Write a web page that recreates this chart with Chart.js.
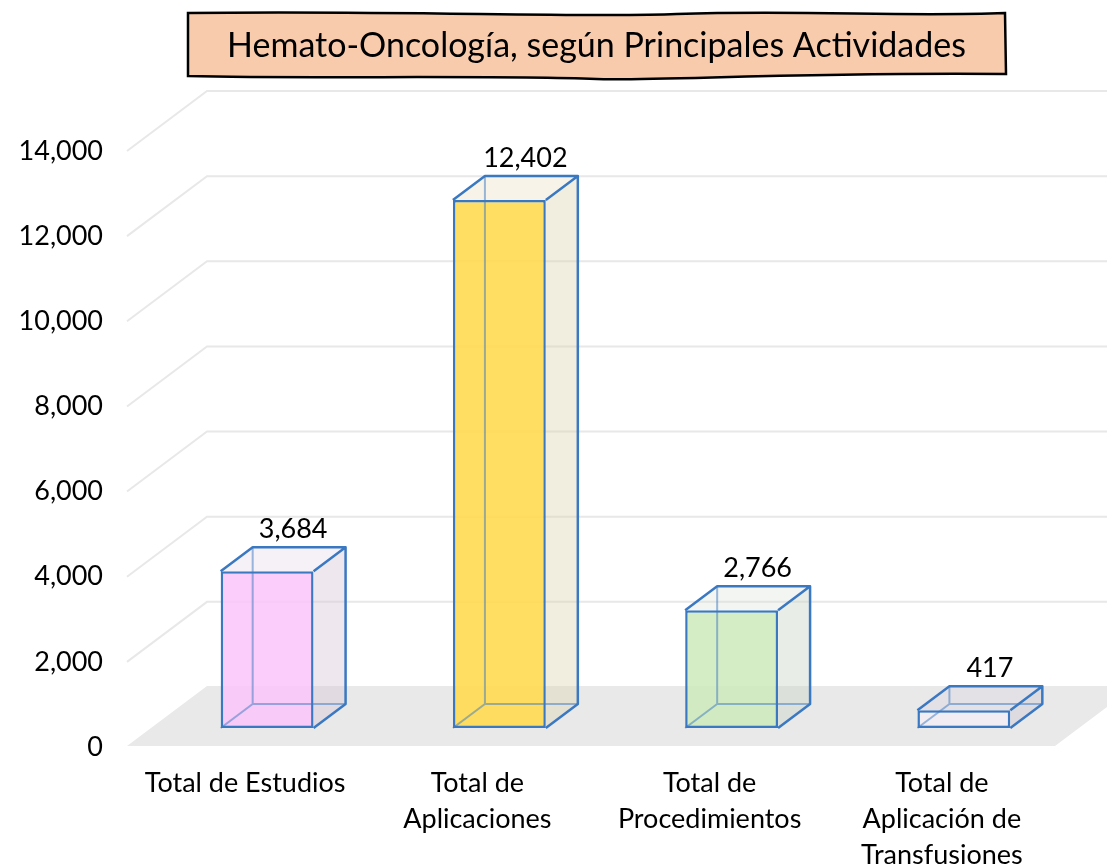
<!DOCTYPE html>
<html>
<head>
<meta charset="utf-8">
<script src="https://cdn.jsdelivr.net/npm/chart.js@4.4.0/dist/chart.umd.min.js"></script>
<style>
  body { margin: 0; background: #fff; }
</style>
</head>
<body>
<canvas id="grafico" width="1107" height="866"></canvas>
<script>
// Datos del gráfico
const titulo = "Hemato-Oncología, según Principales Actividades";
const categorias = [
    "Total de Estudios",
    ["Total de", "Aplicaciones"],
    ["Total de", "Procedimientos"],
    ["Total de", "Aplicación de", "Transfusiones"]
];
const valores = [3684, 12402, 2766, 417];
const ticksY = [0, 2000, 4000, 6000, 8000, 10000, 12000, 14000];

// Colores de cada barra (frente, lado, tapa)
const coloresFrente = ["rgba(249,196,249,0.85)", "rgba(255,218,75,0.88)", "rgba(206,234,187,0.85)", "rgba(243,237,243,0.85)"];
const coloresLado = ["rgba(215,200,215,0.42)", "rgba(222,212,175,0.4)", "rgba(200,212,200,0.42)", "rgba(205,200,212,0.42)"];
const coloresTapa = ["rgba(225,210,225,0.3)", "rgba(232,222,190,0.35)", "rgba(212,222,212,0.3)", "rgba(215,210,222,0.3)"];
const azul = "#3a78c2";
const fuente = "Lato";

// profundidad de la perspectiva
const DX = 32, DY = 24;
const desfase = 19;

function formato(v) {
    return v.toLocaleString("en-US");
}

// Piso, líneas de cuadrícula, caras 3D y título
const fondo3d = {
    id: "fondo3d",
    beforeDatasetsDraw(chart) {
        const ctx = chart.ctx;
        const y = chart.scales.y;
        const area = chart.chartArea;
        const xL = area.left - 24;
        const y0 = y.getPixelForValue(0) + desfase - 1;

        ctx.save();
        // piso gris
        ctx.fillStyle = "#e9e9e9";
        ctx.beginPath();
        ctx.moveTo(xL, y0);
        ctx.lineTo(xL + 80, y0 - 60);
        ctx.lineTo(chart.width + 100, y0 - 60);
        ctx.lineTo(area.right - 25 + 80, y0 - 60);
        ctx.lineTo(area.right - 25, y0);
        ctx.closePath();
        ctx.fill();

        // líneas de cuadrícula
        ctx.strokeStyle = "#e8e8e8";
        ctx.lineWidth = 2;
        ticksY.forEach(function (v) {
            if (v === 0) return;
            const yl = y.getPixelForValue(v) + desfase;
            ctx.beginPath();
            ctx.moveTo(xL, yl);
            ctx.lineTo(xL + 80, yl - 60);
            ctx.lineTo(chart.width, yl - 60);
            ctx.stroke();
        });
        ctx.restore();
    },
    afterDatasetsDraw(chart) {
        const ctx = chart.ctx;
        const meta = chart.getDatasetMeta(0);
        ctx.save();
        meta.data.forEach(function (el, i) {
            const x1 = el.x - el.width / 2;
            const x2 = el.x + el.width / 2;
            const yT = el.y;
            const yB = el.base;

            // cara lateral
            ctx.fillStyle = coloresLado[i];
            ctx.beginPath();
            ctx.moveTo(x2, yT);
            ctx.lineTo(x2 + DX, yT - DY);
            ctx.lineTo(x2 + DX, yB - DY);
            ctx.lineTo(x2, yB);
            ctx.closePath();
            ctx.fill();

            // tapa
            ctx.fillStyle = coloresTapa[i];
            ctx.beginPath();
            ctx.moveTo(x1, yT);
            ctx.lineTo(x1 + DX, yT - DY);
            ctx.lineTo(x2 + DX, yT - DY);
            ctx.lineTo(x2, yT);
            ctx.closePath();
            ctx.fill();

            // aristas ocultas
            ctx.strokeStyle = "rgba(58,120,194,0.5)";
            ctx.lineWidth = 2;
            ctx.beginPath();
            ctx.moveTo(x1, yB);
            ctx.lineTo(x1 + DX, yB - DY);
            ctx.lineTo(x2 + DX, yB - DY);
            ctx.moveTo(x1 + DX, yB - DY);
            ctx.lineTo(x1 + DX, yT - DY);
            ctx.stroke();

            // aristas visibles
            ctx.strokeStyle = azul;
            ctx.lineWidth = 2.5;
            ctx.lineJoin = "round";
            ctx.beginPath();
            ctx.moveTo(x1, yT);
            ctx.lineTo(x1 + DX, yT - DY);
            ctx.lineTo(x2 + DX, yT - DY);
            ctx.lineTo(x2, yT);
            ctx.moveTo(x2 + DX, yT - DY);
            ctx.lineTo(x2 + DX, yB - DY);
            ctx.lineTo(x2, yB);
            ctx.stroke();

            // etiqueta de valor
            ctx.fillStyle = "#000";
            ctx.font = "27px " + fuente;
            ctx.textAlign = "center";
            ctx.textBaseline = "middle";
            ctx.fillText(formato(valores[i]), el.x + 26, yT - DY - 18);
        });
        ctx.restore();
    },
    afterDraw(chart) {
        const ctx = chart.ctx;
        const l = 188, r = 1005, t = 13, b = 78;
        ctx.save();
        ctx.beginPath();
        ctx.moveTo(l, t);
        ctx.bezierCurveTo(l + 200, t - 3, l + 400, t + 5, (l + r) / 2 + 80, t + 1);
        ctx.bezierCurveTo(r - 200, t - 3, r - 100, t + 4, r, t);
        ctx.lineTo(r + 1, b - 4);
        ctx.bezierCurveTo(r - 200, b - 6, r - 350, b + 3, (l + r) / 2, b + 1);
        ctx.bezierCurveTo(l + 300, b - 3, l + 120, b + 1, l, b - 2);
        ctx.closePath();
        ctx.fillStyle = "#f8cbad";
        ctx.fill();
        ctx.strokeStyle = "#000";
        ctx.lineWidth = 2.5;
        ctx.stroke();

        ctx.fillStyle = "#000";
        ctx.font = "34px " + fuente;
        ctx.textAlign = "center";
        ctx.textBaseline = "middle";
        ctx.fillText(titulo, (l + r) / 2, 46);
        ctx.restore();
    }
};

document.addEventListener("DOMContentLoaded", function () {
    const ctx = document.getElementById("grafico").getContext("2d");

    new Chart(ctx, {
        type: "bar",
        data: {
            labels: categorias,
            datasets: [{
                data: valores,
                backgroundColor: coloresFrente,
                borderColor: azul,
                borderWidth: 2.5,
                borderSkipped: false,
                barPercentage: 0.4,
                categoryPercentage: 1
            }]
        },
        options: {
            responsive: false,
            animation: false,
            events: [],
            layout: { padding: { left: 0, right: 27, top: 132, bottom: 0 } },
            plugins: {
                legend: { display: false },
                tooltip: { enabled: false }
            },
            scales: {
                x: {
                    grid: { display: false, drawTicks: false },
                    border: { display: false },
                    ticks: {
                        color: "#000",
                        font: { family: fuente, size: 27, lineHeight: 1.34 },
                        padding: 37,
                        labelOffset: -22,
                        maxRotation: 0,
                        autoSkip: false
                    },
                    afterFit: function (s) { s.height = 138; }
                },
                y: {
                    min: ticksY[0],
                    max: ticksY[ticksY.length - 1],
                    grid: { display: false, drawTicks: false },
                    border: { display: false },
                    afterBuildTicks: function (s) {
                        s.ticks = ticksY.map(function (v) { return { value: v }; });
                    },
                    ticks: {
                        color: "#000",
                        font: { family: fuente, size: 27 },
                        padding: 48,
                        labelOffset: desfase,
                        callback: function (v) { return formato(v); }
                    },
                    afterFit: function (s) { s.width = 151; }
                }
            }
        },
        plugins: [fondo3d]
    });
});
</script>
</body>
</html>
